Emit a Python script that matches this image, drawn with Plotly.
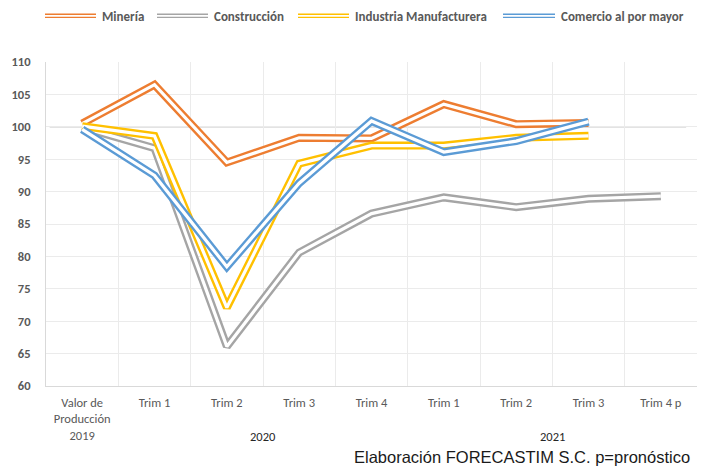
import plotly.graph_objects as go

categories = ["Valor de<br>Producción<br>2019", "Trim 1", "Trim 2", "Trim 3", "Trim 4",
              "Trim 1", "Trim 2", "Trim 3", "Trim 4 p"]
x_pos = list(range(len(categories)))

mineria = [100.5, 106.5, 94.5, 98.3, 98.2, 103.5, 100.4, 100.6, None]
construccion = [99.9, 96.7, 66.1, 80.6, 86.6, 89.1, 87.6, 88.9, 89.3]
industria = [100.1, 98.6, 72.1, 94.3, 97.1, 97.1, 98.3, 98.6, None]
comercio = [99.6, 92.5, 78.4, 91.3, 100.9, 96.1, 97.8, 100.8, None]

series_names = ["Minería", "Construcción", "Industria Manufacturera", "Comercio al por mayor"]
series_values = [mineria, construccion, industria, comercio]
series_colors = ["#ED7D31", "#A5A5A5", "#FFC000", "#5B9BD5"]

year_labels = ["2020", "2021"]
year_centers = [2.5, 6.5]
reference_level = 100

FONT = "Carlito, Calibri, Lato, sans-serif"

fig = go.Figure()
for name, vals, col in zip(series_names, series_values, series_colors):
    fig.add_trace(go.Scatter(x=x_pos, y=vals, mode="lines", name=name,
                             line=dict(color=col, width=8), showlegend=False,
                             hoverinfo="skip"))
    fig.add_trace(go.Scatter(x=x_pos, y=vals, mode="lines", name=name,
                             line=dict(color="white", width=3.2), showlegend=False,
                             hoverinfo="skip"))

# reference line at 100
fig.add_shape(type="line", x0=-0.45, x1=8.35, y0=reference_level, y1=reference_level,
              xref="x", yref="y", line=dict(color="#C8C8C8", width=1.5), layer="below")

# custom legend (double line symbols)
leg_sym = [(45, 96), (157, 208), (298, 349), (503, 555)]
W, H = 704, 467
for (x0, x1), name, col in zip(leg_sym, series_names, series_colors):
    for yy in (14.2, 17.4):
        fig.add_shape(type="line", xref="paper", yref="paper",
                      x0=(x0 - 46) / 651, x1=(x1 - 46) / 651,
                      y0=(386 - yy) / 324, y1=(386 - yy) / 324,
                      line=dict(color=col, width=1.4))
    fig.add_annotation(xref="paper", yref="paper", x=(x1 + 5 - 46) / 651,
                       y=(386 - 16) / 324, text=name, showarrow=False,
                       xanchor="left", yanchor="middle", borderpad=0,
                       font=dict(family=FONT, size=13, color="#595959", weight="bold"))

for lab, xc in zip(year_labels, year_centers):
    fig.add_annotation(x=xc, xref="x", yref="paper", y=(386 - 436) / 324, text=lab,
                       showarrow=False, xanchor="center", yanchor="middle",
                       font=dict(family=FONT, size=12.5, color="#262626"))

fig.add_annotation(xref="paper", yref="paper", x=(691 - 46) / 651, y=(386 - 457) / 324,
                   text="Elaboración FORECASTIM S.C. p=pronóstico", showarrow=False,
                   xanchor="right", yanchor="middle", borderpad=0,
                   font=dict(family="Liberation Sans, Arial, sans-serif", size=16.5, color="#1a1a1a"))

fig.update_layout(
    width=W, height=H,
    margin=dict(l=46, r=7, t=62, b=81),
    paper_bgcolor="white", plot_bgcolor="white",
    showlegend=False,
)
fig.update_xaxes(
    range=[-0.5, 8.5], tickmode="array", tickvals=x_pos, ticktext=categories,
    showgrid=False, zeroline=False,
    showline=True, linecolor="#D9D9D9", linewidth=1,
    minor=dict(tick0=-0.5, dtick=1, showgrid=True, gridcolor="#EBEBEB", gridwidth=1.3),
    tickfont=dict(family=FONT, size=12.5, color="#595959"),
    ticks="", ticklabelstandoff=5,
)
fig.update_yaxes(
    range=[60, 110], dtick=5, tick0=60,
    showgrid=True, gridcolor="#EBEBEB", gridwidth=1.3, zeroline=False,
    showline=True, linecolor="#D9D9D9", linewidth=1,
    tickfont=dict(family=FONT, size=12.5, color="#595959", weight="bold"),
    ticks="", ticklabelstandoff=12,
)

fig.write_html("out.html", config={"displayModeBar": False},
               post_script="document.body.style.margin='0';document.body.style.overflow='hidden';")
